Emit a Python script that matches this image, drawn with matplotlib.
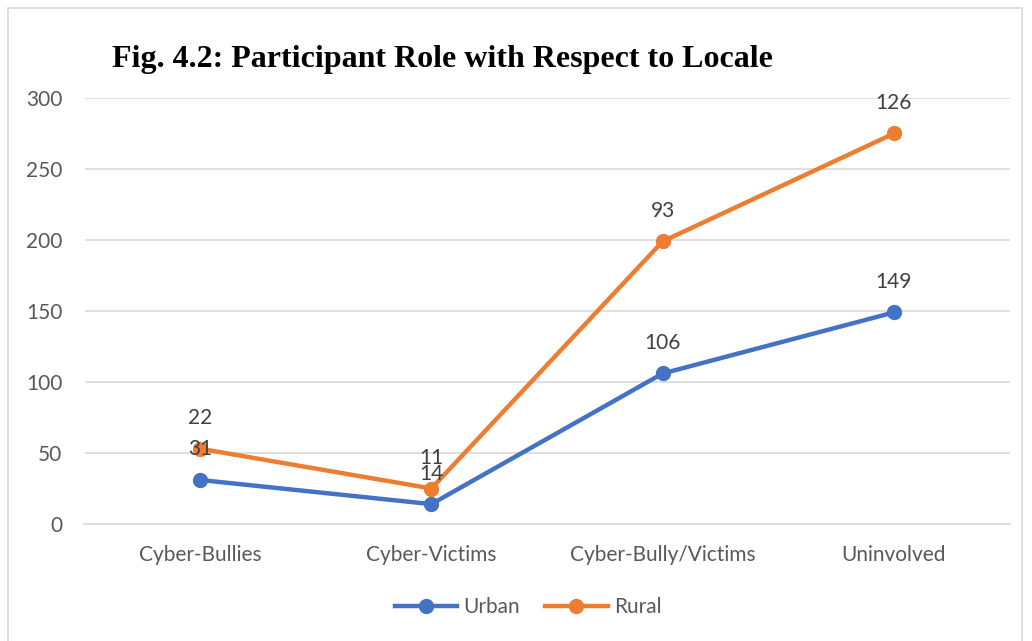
import matplotlib.pyplot as plt
from matplotlib.patches import Rectangle
import numpy as np

categories = ["Cyber-Bullies", "Cyber-Victims", "Cyber-Bully/Victims", "Uninvolved"]
urban = [31, 14, 106, 149]
rural = [22, 11, 93, 126]
y_ticks = [0, 50, 100, 150, 200, 250, 300]

blue = "#4472C4"
orange = "#ED7D31"
text_color = "#595959"
grid_color = "#D9D9D9"

plt.rcParams['font.family'] = ['Lato', 'DejaVu Sans']

fig = plt.figure(figsize=(10.32, 6.41), dpi=100)
# outer chart border
fig.patches.append(Rectangle((8 / 1032, -0.01), 1014 / 1032, 1 - 8 / 641 + 0.01, transform=fig.transFigure,
                             fill=False, edgecolor="#D9D9D9", linewidth=1.2))

ax = fig.add_axes([84.5 / 1032, 117 / 641, 925 / 1032, 426 / 641])
x = np.arange(len(categories))
# stacked line: rural plotted on top of urban
rural_stacked = np.array(urban) + np.array(rural)

ax.plot(x, urban, color=blue, linewidth=3.2, marker="o", markersize=10, label="Urban", zorder=3)
ax.plot(x, rural_stacked, color=orange, linewidth=3.2, marker="o", markersize=10, label="Rural", zorder=3)

for xi, yv, lab in zip(x, urban, urban):
    ax.annotate(str(lab), (xi, yv), xytext=(0, 22), textcoords="offset points",
                ha="center", va="center", fontsize=15, color="#404040")
for xi, yv, lab in zip(x, rural_stacked, rural):
    ax.annotate(str(lab), (xi, yv), xytext=(0, 22), textcoords="offset points",
                ha="center", va="center", fontsize=15, color="#404040")

ax.set_xlim(-0.5, len(categories) - 0.5)
ax.set_ylim(0, 300)
ax.set_yticks(y_ticks)
ax.set_xticks(x)
ax.set_xticklabels(categories)
ax.tick_params(axis="both", length=0, labelsize=15, colors=text_color)
ax.tick_params(axis="x", pad=15)
ax.tick_params(axis="y", pad=16)
ax.grid(axis="y", color=grid_color, linewidth=1.2)
ax.set_axisbelow(True)
for s in ["top", "right", "left"]:
    ax.spines[s].set_visible(False)
ax.spines["bottom"].set_color(grid_color)
ax.spines["bottom"].set_linewidth(1.2)

fig.text(112 / 1032, 1 - 60 / 641, "Fig. 4.2: Participant Role with Respect to Locale",
         family="Liberation Serif", fontweight="bold", fontsize=23, ha="left", va="center", color="black")

fig.legend(loc="center", bbox_to_anchor=(528 / 1032, 1 - 607 / 641), ncol=2, frameon=False,
           fontsize=15, labelcolor=text_color, handlelength=3, handletextpad=0.3, columnspacing=1.2)

plt.savefig("out.png", dpi=100)
